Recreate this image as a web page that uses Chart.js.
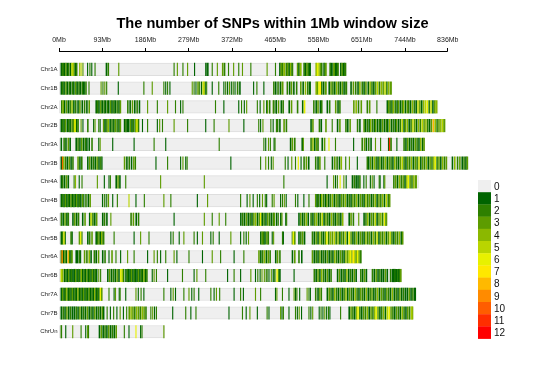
<!DOCTYPE html>
<html lang="en">
<head>
<meta charset="UTF-8">
<title>SNP density</title>
<script src="https://cdn.jsdelivr.net/npm/chart.js"></script>
<style>
  body { margin: 0; background: #fff; }
  #wrap { width: 545px; height: 365px; }
</style>
</head>
<body>
<div id="wrap"><canvas id="chart"></canvas></div>
<script>
// chromosomes, lengths in Mb
const chromosomes = ['Chr1A','Chr1B','Chr2A','Chr2B','Chr3A','Chr3B','Chr4A','Chr4B','Chr5A','Chr5B','Chr6A','Chr6B','Chr7A','Chr7B','ChrUn'];
const chromLengths = [618, 716, 815, 830, 786, 880, 773, 712, 706, 740, 650, 736, 768, 762, 227];

const tickMb = [0, 93, 186, 279, 372, 465, 558, 651, 744, 836];
const tickLabels = ['0Mb','93Mb','186Mb','279Mb','372Mb','465Mb','558Mb','651Mb','744Mb','836Mb'];

const legendLevels = ['0','1','2','3','4','5','6','7','8','9','10','11','12'];
const levelColors = ['#efefef','#006400','#2e8000','#5d9c00','#8bb800','#b9d500','#e8f100',
                     '#ffe800','#ffb900','#ff8b00','#ff5d00','#ff2e00','#ff0000'];

// SNP windows: [startMb, endMb, SNP count]
const chr1A = [[4,6,1],[7,10,2],[11,13,1],[14,16,3],[17,19,1],[20,22,2],[24,26,1],[27,30,5],[31,33,4],[34,36,1],[37,39,2],
  [44,45,4],[47,48,5],[51,52,3],[61,62,1],[66,67,2],[70,71,1],[77,78,2],[101,103,1],[105,107,2],[128,129,3],
  [247,248,2],[254,255,3],[266,267,2],[276,277,3],[291,292,1],[315,317,1],[319,321,1],[329,330,2],[340,341,3],
  [351,353,3],[355,357,2],[364,365,2],[375,376,3],[386,387,2],[394,395,3],[412,413,2],[447,448,3],[465,466,2],
  [474,476,1],[477,479,3],[480,482,2],[483,486,4],[488,490,2],[491,493,3],[494,496,1],[497,499,4],[500,503,2],
  [512,514,3],[515,517,1],[518,521,4],[526,528,2],[529,531,1],[532,534,3],[535,537,2],[538,541,1],[552,554,4],
  [555,557,6],[558,560,5],[561,563,3],[564,566,2],[569,571,1],[572,575,3],[582,584,2],[585,588,1],[590,593,3],
  [594,597,1],[598,601,2],[605,607,1],[608,610,3],[611,614,1],[614,617,2]];
const chr1B = [[4,6,1],[7,9,2],[10,12,1],[14,16,3],[17,19,1],[21,23,2],[24,26,1],[28,30,2],[31,33,1],[35,37,3],[38,40,1],
  [42,44,2],[45,47,1],[49,51,2],[52,55,1],[57,59,2],[64,65,2],[90,91,3],[94,95,2],[98,99,3],[102,103,2],[127,128,1],
  [182,183,2],[200,201,3],[225,226,2],[229,230,1],[233,234,2],[238,239,1],[286,287,3],[290,291,2],[294,295,1],
  [298,300,3],[302,303,2],[306,307,1],[309,311,5],[312,313,6],[314,315,1],[317,318,2],[329,330,1],[343,344,2],
  [354,355,1],[358,359,2],[362,363,1],[366,367,3],[370,371,1],[374,375,2],[378,379,1],[383,385,2],[388,390,1],
  [418,419,1],[425,426,2],[440,441,1],[461,463,2],[465,467,1],[470,472,2],[475,477,1],[479,482,3],[490,492,2],
  [495,497,1],[499,501,3],[504,506,1],[510,512,2],[519,521,3],[524,526,1],[529,531,4],[534,536,2],[538,541,1],
  [552,554,4],[555,557,3],[558,560,6],[561,563,7],[564,566,2],[568,570,1],[572,575,3],[580,582,1],[584,586,3],
  [588,590,2],[592,594,1],[596,598,4],[600,602,2],[604,606,1],[608,610,3],[612,614,1],[616,619,2],[627,629,1],
  [632,634,3],[637,639,2],[642,644,1],[646,648,4],[651,653,2],[655,657,1],[659,661,3],[664,666,1],[668,670,4],
  [672,674,2],[676,678,1],[680,682,3],[684,686,5],[688,690,2],[692,694,4],[696,698,3],[700,702,5],[704,706,2],
  [708,710,4],[712,715,3]];
const chr2A = [[5,7,2],[8,10,4],[11,13,1],[15,17,3],[19,21,1],[23,25,2],[27,29,4],[31,33,1],[35,37,2],[40,42,1],[44,46,3],
  [49,51,1],[54,56,2],[59,61,1],[64,66,3],[79,81,1],[82,84,2],[85,87,1],[89,91,3],[92,94,1],[96,98,2],[99,101,1],
  [103,105,2],[106,108,1],[110,112,3],[113,115,1],[117,119,2],[120,122,1],[124,126,2],[128,130,1],[131,133,3],
  [147,149,2],[152,154,1],[157,159,3],[162,164,1],[167,169,2],[172,174,1],[190,191,3],[211,212,2],[233,234,3],
  [250,251,2],[261,262,1],[266,267,2],[336,337,2],[354,355,1],[386,387,1],[392,393,2],[398,399,1],[403,404,3],
  [426,427,2],[432,433,1],[440,441,3],[446,447,1],[452,453,2],[460,461,3],[467,468,1],[448,449,3],[453,454,2],
  [461,463,2],[466,468,1],[471,473,3],[477,479,1],[481,483,2],[494,496,1],[499,501,3],[512,514,2],[523,525,1],
  [527,529,6],[547,549,2],[552,554,1],[556,558,3],[561,563,1],[564,566,2],[576,578,1],[581,583,2],[594,596,3],
  [599,601,1],[603,605,2],[633,635,3],[638,640,4],[643,645,2],[649,651,3],[662,664,2],[667,669,3],[683,684,2],
  [705,707,1],[708,710,3],[711,713,2],[715,717,1],[718,720,4],[722,724,2],[726,728,1],[729,731,3],[733,735,1],
  [737,739,2],[740,742,4],[744,746,1],[748,750,3],[751,753,2],[755,757,1],[759,761,4],[763,765,2],[767,769,1],
  [771,773,5],[775,777,3],[779,781,1],[783,785,4],[787,789,5],[791,793,6],[795,797,2],[799,801,5],[803,805,1],
  [807,809,3],[810,813,4]];
const chr2B = [[4,6,1],[7,9,2],[10,12,1],[13,15,3],[17,19,1],[20,22,2],[23,25,1],[27,29,3],[30,32,1],[32,34,5],[34,36,6],
  [37,39,1],[40,42,2],[47,48,3],[51,52,1],[61,63,2],[74,75,1],[77,78,3],[85,86,2],[88,89,1],[95,97,3],[98,100,1],
  [102,104,2],[105,107,4],[109,111,1],[113,115,2],[117,119,1],[120,122,3],[124,126,2],[128,130,1],[131,133,3],
  [140,142,1],[143,145,2],[146,148,1],[149,151,1],[153,155,3],[156,158,1],[159,161,2],[163,165,1],[165,167,5],
  [168,169,6],[170,172,2],[179,180,1],[190,191,2],[211,212,1],[216,217,3],[222,223,2],[247,248,3],[276,277,2],
  [315,316,1],[333,334,2],[365,366,3],[397,398,1],[429,430,2],[433,434,1],[438,439,3],[455,456,2],[460,461,1],
  [467,468,2],[469,471,2],[474,476,1],[483,485,3],[488,490,2],[541,543,1],[545,547,3],[559,561,2],[563,565,1],
  [573,575,3],[587,588,2],[598,600,1],[603,605,3],[616,618,2],[620,622,1],[625,627,3],[641,643,2],[646,648,1],
  [655,657,3],[658,660,1],[662,664,2],[666,668,1],[669,671,4],[673,675,2],[677,679,1],[680,682,3],[684,686,1],
  [688,690,2],[691,693,1],[695,697,3],[699,701,1],[703,705,2],[706,708,1],[710,712,4],[714,716,1],[718,720,2],
  [722,724,1],[725,727,3],[729,731,1],[733,735,2],[737,739,5],[741,743,1],[744,746,3],[748,750,4],[752,754,1],
  [756,758,2],[760,762,5],[764,766,3],[768,770,1],[772,774,4],[776,778,2],[780,782,5],[784,786,3],[788,790,4],
  [792,794,2],[796,798,1],[800,802,3],[804,806,8],[808,810,4],[812,814,2],[816,818,3],[820,822,4],[824,826,5],
  [827,830,3]];
const chr3A = [[4,6,1],[10,12,2],[14,16,1],[19,21,3],[23,25,1],[36,38,1],[40,42,2],[44,46,1],[48,50,3],[52,54,1],[56,58,2],
  [59,61,1],[64,66,1],[70,72,2],[85,86,1],[88,89,3],[115,116,1],[161,162,1],[204,205,2],[229,230,1],[344,345,2],
  [444,445,1],[450,451,3],[454,455,2],[440,441,2],[462,463,1],[464,465,2],[497,499,1],[501,503,3],[506,508,2],
  [522,524,1],[525,526,3],[541,543,2],[545,547,4],[549,551,1],[553,555,3],[556,558,2],[565,567,1],[570,572,3],
  [580,581,6],[594,595,2],[633,634,1],[651,653,2],[656,658,3],[660,662,1],[665,667,2],[670,672,1],[680,681,3],
  [691,692,2],[708,709,1],[710,712,11],[713,715,2],[726,727,1],[741,743,2],[745,747,1],[749,751,3],[753,755,1],
  [757,759,2],[761,763,1],[765,767,3],[769,771,2],[773,775,1],[777,779,4],[781,783,1],[784,786,3]];
const chr3B = [[4,6,1],[7,8,10],[9,11,4],[13,15,2],[17,19,1],[21,23,3],[25,27,1],[29,31,2],[40,42,3],[44,46,1],[48,50,2],
  [61,63,1],[65,67,3],[69,71,1],[73,75,2],[77,79,1],[81,83,3],[85,87,1],[89,91,2],[92,93,1],[140,142,3],[145,147,1],
  [150,152,2],[155,157,1],[160,162,3],[164,165,2],[208,209,1],[233,234,2],[261,262,1],[266,267,3],[272,273,1],
  [275,276,2],[369,370,1],[433,434,2],[444,445,3],[450,451,2],[456,457,1],[460,461,3],[486,487,2],[492,493,1],
  [500,501,3],[508,509,2],[514,515,6],[520,521,1],[526,528,2],[531,533,3],[536,538,1],[551,553,2],[556,558,1],
  [560,562,3],[571,572,2],[587,589,1],[592,594,3],[597,599,2],[602,604,1],[606,608,4],[616,617,2],[624,625,3],
  [641,642,1],[662,664,2],[665,667,1],[669,671,3],[673,675,1],[677,679,4],[681,683,2],[685,687,1],[689,691,3],
  [693,695,1],[697,699,2],[701,703,4],[705,707,1],[709,711,3],[713,715,2],[717,719,1],[721,723,4],[725,727,2],
  [729,731,1],[733,735,3],[737,739,5],[741,743,2],[745,747,1],[749,751,3],[753,755,2],[757,759,4],[761,763,1],
  [765,767,3],[769,771,2],[773,775,5],[777,779,1],[781,783,3],[785,787,2],[789,791,4],[793,795,1],[797,799,3],
  [801,803,2],[805,807,4],[808,810,6],[812,814,2],[816,818,3],[820,822,1],[824,826,4],[828,830,2],[832,834,3],
  [845,847,1],[850,852,4],[856,858,2],[861,863,3],[866,868,1],[870,872,2],[874,876,1],[877,879,3]];
const chr4A = [[4,6,1],[7,9,2],[11,13,1],[15,17,3],[19,21,1],[32,33,2],[35,36,4],[43,44,1],[49,50,2],[82,83,3],[97,98,1],
  [107,108,1],[110,111,2],[122,124,1],[126,128,3],[130,132,1],[143,144,2],[218,219,3],[312,313,3],[483,484,2],
  [576,577,1],[590,591,3],[594,595,1],[598,599,2],[604,605,6],[612,613,3],[617,618,1],[630,632,1],[634,636,2],
  [638,640,1],[642,644,1],[646,648,2],[655,656,1],[660,661,2],[669,670,1],[673,674,3],[677,678,1],[688,689,2],
  [690,691,1],[698,699,1],[700,701,3],[719,721,2],[723,725,3],[727,729,1],[731,733,4],[735,737,2],[739,741,3],
  [743,745,1],[747,749,4],[750,752,6],[754,756,3],[758,760,2],[762,764,4],[766,769,3]];
const chr4B = [[4,6,1],[7,9,2],[10,12,1],[13,15,3],[16,18,1],[19,21,2],[22,24,1],[25,27,3],[28,30,1],[31,33,2],[34,36,1],
  [37,39,3],[40,42,1],[43,45,2],[46,48,1],[50,52,3],[53,54,1],[57,59,2],[62,64,1],[66,68,3],[93,94,1],[97,98,2],
  [101,102,1],[105,107,3],[115,116,1],[125,126,2],[150,151,5],[165,166,1],[183,184,2],[225,226,3],[240,241,2],
  [297,298,1],[319,320,3],[390,391,2],[404,405,1],[410,411,3],[417,418,1],[426,427,2],[431,432,1],[437,438,3],
  [443,444,2],[446,447,1],[458,459,2],[462,463,3],[476,477,1],[480,481,2],[484,485,3],[488,489,1],[508,509,2],
  [513,514,1],[526,527,1],[537,538,2],[551,553,3],[554,556,1],[557,559,2],[561,563,1],[564,566,4],[568,570,2],
  [572,574,1],[575,577,3],[579,581,1],[583,585,2],[587,589,4],[591,593,1],[595,597,3],[599,601,2],[603,605,1],
  [607,609,3],[611,613,2],[615,617,4],[619,621,1],[623,625,2],[627,629,1],[631,633,3],[635,637,2],[639,641,4],
  [643,645,1],[647,649,3],[651,653,2],[655,657,1],[659,661,4],[663,665,2],[667,669,3],[671,673,1],[675,677,2],
  [679,681,4],[683,685,1],[687,689,3],[691,693,2],[695,697,4],[699,701,1],[703,705,5],[707,709,2],[710,712,3]];
const chr5A = [[4,6,2],[8,10,1],[12,14,3],[16,18,1],[19,21,2],[29,31,1],[33,35,3],[37,39,1],[41,43,2],[50,52,1],[55,57,3],
  [65,67,1],[68,70,5],[72,74,2],[76,78,1],[80,82,3],[93,95,1],[97,99,2],[102,104,1],[111,112,3],[154,156,2],
  [159,161,3],[165,167,1],[170,172,2],[247,248,1],[312,313,3],[329,330,2],[344,345,3],[358,359,2],[390,392,1],
  [394,396,2],[398,400,1],[402,404,3],[406,408,1],[410,412,2],[414,416,1],[418,420,3],[422,424,4],[426,428,1],
  [430,432,3],[433,435,6],[436,438,1],[440,442,2],[444,446,1],[448,450,3],[452,454,2],[456,458,1],[460,462,2],
  [462,464,3],[467,469,1],[471,472,2],[476,478,1],[479,480,3],[487,488,1],[489,490,2],[515,517,1],[519,521,3],
  [523,525,1],[527,529,2],[531,533,4],[535,537,1],[541,543,2],[545,547,1],[549,551,3],[553,555,4],[557,559,1],
  [561,563,2],[565,567,5],[569,571,1],[573,575,3],[577,579,2],[581,583,1],[585,587,4],[589,591,2],[593,595,1],
  [597,599,3],[601,603,2],[605,607,1],[609,611,4],[623,625,1],[627,629,3],[632,634,2],[644,645,3],[655,657,1],
  [659,661,2],[663,665,4],[667,669,1],[671,673,3],[675,677,2],[679,681,5],[683,685,1],[687,689,3],[691,693,4],
  [695,697,2],[699,701,6],[702,705,3]];
const chr5B = [[4,6,1],[7,9,2],[10,12,6],[13,14,1],[25,27,2],[28,29,1],[43,45,3],[46,48,6],[49,50,2],[61,63,1],[65,67,2],
  [70,72,3],[79,81,1],[82,84,2],[85,87,3],[88,90,1],[91,93,4],[94,97,2],[118,119,2],[161,162,1],[175,176,3],
  [193,194,2],[240,241,1],[245,246,2],[258,259,1],[268,269,3],[290,291,2],[297,298,1],[308,309,3],[326,327,1],
  [331,332,2],[344,345,1],[369,370,3],[390,391,1],[397,398,2],[402,403,1],[407,408,3],[433,435,1],[436,438,3],
  [439,441,2],[442,444,1],[446,448,3],[449,451,2],[458,459,1],[461,462,3],[480,481,2],[482,483,1],[501,502,2],
  [503,505,6],[506,508,3],[515,517,1],[519,521,2],[523,525,3],[527,529,1],[544,546,2],[548,550,1],[552,554,3],
  [556,558,1],[560,562,4],[564,566,2],[568,570,1],[572,574,3],[575,577,6],[579,581,2],[583,585,4],[587,589,3],
  [591,593,5],[595,597,2],[599,601,4],[603,605,1],[607,609,3],[611,613,2],[615,617,5],[619,621,1],[623,625,6],
  [627,629,3],[631,633,1],[635,637,2],[639,641,4],[643,645,1],[647,649,3],[651,653,2],[655,657,1],[659,661,4],
  [663,665,2],[667,669,3],[671,673,1],[675,677,4],[679,681,2],[683,685,5],[687,689,1],[691,693,3],[695,697,2],
  [699,701,4],[703,705,1],[707,709,3],[711,713,5],[715,717,2],[719,721,1],[723,725,3],[727,729,2],[731,733,4],
  [735,737,1],[738,740,3]];
const chr6A = [[4,6,2],[6,8,9],[9,11,1],[12,14,3],[15,17,1],[19,21,8],[22,24,2],[25,27,1],[27,29,3],[36,38,1],[39,41,1],
  [43,45,2],[46,47,1],[54,56,3],[59,61,2],[64,66,4],[68,70,1],[75,77,2],[79,81,1],[84,86,3],[93,95,1],[98,100,2],
  [107,108,1],[113,115,3],[122,123,2],[132,133,1],[147,148,3],[161,162,2],[190,191,1],[204,205,3],[211,212,2],
  [218,219,1],[229,230,2],[247,248,3],[253,254,1],[279,280,2],[308,309,1],[329,330,3],[347,348,2],[376,377,1],
  [397,398,2],[429,431,3],[433,435,1],[437,439,2],[441,443,4],[445,447,1],[449,451,3],[453,455,2],[465,467,1],
  [469,471,3],[474,476,2],[501,503,1],[506,508,3],[515,517,2],[521,523,1],[544,546,3],[548,550,1],[552,554,2],
  [556,558,1],[560,562,3],[564,566,1],[568,570,2],[572,574,1],[576,578,3],[580,582,1],[584,586,2],[588,590,1],
  [592,594,4],[596,598,2],[600,602,1],[604,606,3],[608,610,2],[612,614,1],[616,618,4],[620,622,3],[623,625,5],
  [626,628,6],[629,631,4],[632,634,7],[635,637,5],[638,640,3],[641,643,6],[644,646,4],[647,650,2]];
const chr6B = [[4,6,5],[7,9,4],[11,13,1],[14,16,2],[17,19,1],[20,22,3],[23,25,1],[26,28,2],[29,31,1],[32,34,1],[35,37,3],
  [38,40,1],[41,43,2],[44,46,1],[47,49,4],[50,52,1],[53,55,2],[56,58,1],[59,61,3],[62,64,1],[65,67,2],[68,70,1],
  [71,73,3],[74,76,1],[77,79,2],[80,82,1],[85,86,3],[89,90,2],[104,106,1],[108,110,3],[112,114,1],[116,118,2],
  [120,122,1],[124,126,3],[128,130,1],[132,134,6],[135,137,5],[138,140,2],[143,145,1],[146,148,2],[149,151,1],
  [152,154,1],[155,157,3],[158,160,1],[161,163,2],[164,166,1],[167,169,1],[170,172,3],[173,175,1],[176,178,2],
  [179,181,1],[182,184,4],[185,187,1],[188,190,2],[200,201,1],[204,205,3],[209,210,2],[233,234,1],[265,266,2],
  [290,291,1],[296,297,3],[315,316,2],[362,363,1],[376,377,2],[390,391,1],[412,413,3],[422,423,1],[427,428,2],
  [432,433,1],[436,437,3],[441,442,3],[445,446,2],[447,448,2],[451,452,1],[456,457,3],[460,461,1],[462,463,1],
  [464,465,2],[468,469,6],[470,471,6],[472,473,2],[474,476,1],[505,506,1],[548,550,2],[552,554,1],[556,558,3],
  [560,562,1],[564,566,4],[568,570,2],[572,574,1],[576,578,3],[580,582,1],[584,586,2],[598,600,1],[602,604,3],
  [606,608,1],[610,612,2],[614,616,1],[618,620,4],[622,624,1],[626,628,2],[630,632,1],[634,636,3],[638,640,1],
  [648,650,2],[652,654,1],[656,658,3],[660,662,1],[673,675,2],[677,679,1],[681,683,3],[685,687,1],[689,691,2],
  [693,695,1],[697,699,1],[701,703,3],[705,707,1],[712,714,2],[716,718,1],[718,720,1],[720,722,1],[722,724,2],
  [724,726,1],[726,728,1],[728,730,2],[730,733,1],[733,736,3]];
const chr7A = [[4,6,1],[7,9,3],[10,12,1],[13,15,2],[16,18,4],[19,21,1],[22,24,2],[25,27,1],[28,30,3],[31,33,1],[34,36,2],
  [37,39,1],[40,42,4],[43,45,1],[46,48,2],[49,51,1],[52,54,3],[55,57,1],[58,60,2],[61,63,1],[64,66,3],[67,69,1],
  [70,72,2],[73,75,1],[76,78,4],[79,81,1],[82,84,2],[85,87,1],[88,90,6],[91,93,3],[107,108,2],[118,119,1],
  [121,122,3],[129,130,1],[131,132,2],[143,144,1],[165,166,3],[170,171,1],[176,177,2],[182,183,1],[225,226,2],
  [240,241,1],[245,246,3],[250,251,1],[268,269,2],[279,280,3],[285,286,1],[290,291,2],[300,301,1],[326,327,2],
  [333,334,1],[338,339,3],[345,346,2],[376,377,1],[390,391,2],[396,397,1],[422,423,3],[433,434,2],[465,466,1],
  [468,469,3],[480,481,2],[494,495,1],[505,506,3],[508,509,1],[511,512,2],[517,518,1],[533,534,3],[537,538,2],
  [540,541,1],[551,553,2],[556,558,1],[560,562,3],[564,565,2],[576,578,1],[580,582,3],[584,586,2],[588,590,1],
  [592,594,4],[596,598,2],[600,602,1],[604,606,3],[608,610,1],[612,614,2],[616,618,4],[620,622,1],[624,626,3],
  [628,630,2],[632,634,1],[636,638,4],[640,642,2],[644,646,1],[648,650,3],[652,654,2],[656,658,1],[660,662,4],
  [664,666,1],[668,670,2],[672,674,3],[676,678,1],[680,682,2],[684,686,4],[688,690,1],[692,694,3],[696,698,2],
  [700,702,1],[704,706,3],[708,710,2],[712,714,1],[716,718,4],[720,722,1],[724,726,2],[728,730,1],[732,734,3],
  [736,738,1],[740,742,2],[744,746,1],[748,750,1],[752,754,3],[756,758,1],[760,762,2],[764,767,1]];
const chr7B = [[4,6,1],[8,10,2],[12,14,1],[16,18,3],[20,22,1],[24,26,2],[28,30,1],[32,34,1],[36,38,2],[40,42,1],[44,46,3],
  [48,50,1],[52,54,2],[56,58,1],[60,62,3],[64,66,1],[68,70,2],[72,74,1],[76,78,3],[80,82,1],[84,86,2],[88,90,1],
  [92,94,3],[95,97,1],[103,104,2],[110,111,1],[117,118,2],[124,125,1],[131,132,3],[138,139,1],[145,146,2],
  [150,152,3],[154,156,4],[158,160,3],[162,164,2],[166,168,4],[170,172,3],[174,176,2],[178,180,4],[182,184,3],
  [186,188,2],[197,198,2],[201,202,3],[205,206,1],[209,210,2],[244,245,1],[272,273,2],[283,284,1],[294,295,2],
  [365,366,1],[394,395,2],[402,403,1],[410,411,3],[426,427,1],[447,448,2],[451,452,1],[476,477,3],[479,480,1],
  [482,483,2],[494,495,1],[508,509,2],[512,513,1],[516,517,3],[521,522,1],[537,538,2],[541,542,1],[545,546,3],
  [559,560,1],[563,564,2],[567,568,1],[571,572,3],[575,576,1],[579,580,2],[582,583,1],[605,606,2],[623,625,1],
  [627,629,3],[631,633,2],[635,637,1],[639,641,4],[642,644,6],[646,648,2],[650,652,1],[654,656,3],[658,660,2],
  [662,664,4],[666,668,1],[670,672,3],[674,676,2],[678,680,4],[681,683,6],[685,687,3],[689,691,1],[693,695,2],
  [697,699,4],[701,703,1],[705,707,5],[709,711,6],[713,715,3],[717,719,2],[721,723,1],[725,727,3],[729,731,2],
  [733,735,1],[737,739,4],[741,743,2],[745,747,1],[749,751,3],[753,755,2],[757,759,5],[759,761,4]];
const chrUn = [[4,6,2],[14,15,1],[29,30,3],[47,48,2],[57,58,1],[61,62,3],[63,64,2],[86,88,1],[90,92,3],[94,96,1],[98,100,2],
  [102,104,1],[106,108,3],[110,112,1],[114,116,2],[118,120,1],[122,124,3],[140,141,2],[150,151,1],[165,166,6],
  [175,176,1],[178,179,2],[225,226,3]];

const windowSets = [chr1A, chr1B, chr2A, chr2B, chr3A, chr3B, chr4A, chr4B, chr5A, chr5B, chr6A, chr6B, chr7A, chr7B, chrUn];

// build floating bar data
const bodyData = chromLengths.map((len, i) => ({ x: [0, len], y: i }));
const stripeData = [];
windowSets.forEach((set, i) => {
  set.forEach(w => stripeData.push({ x: [w[0], w[1]], y: i, n: w[2] }));
});

const font = "'Liberation Sans', Arial, sans-serif";

// top axis line only over the labelled range, plus the colour key
const extras = {
  id: 'extras',
  afterDraw(chart) {
    const ctx = chart.ctx;
    const xs = chart.scales.x;
    const top = chart.chartArea.top;
    ctx.save();
    ctx.strokeStyle = '#000';
    ctx.lineWidth = 1;
    ctx.beginPath();
    ctx.moveTo(xs.getPixelForValue(tickMb[0]), top + 0.5);
    ctx.lineTo(xs.getPixelForValue(tickMb[tickMb.length - 1]), top + 0.5);
    ctx.stroke();

    // colour key
    const kx = 478, ky = 180, kw = 13, kh = 12.2;
    ctx.font = '10px ' + font;
    ctx.textBaseline = 'middle';
    legendLevels.forEach((lab, i) => {
      ctx.fillStyle = levelColors[i];
      ctx.fillRect(kx, ky + i * kh, kw, kh + 0.3);
      ctx.fillStyle = '#111';
      ctx.fillText(lab, kx + kw + 3, ky + i * kh + kh / 2 + 1);
    });
    ctx.restore();
  }
};

new Chart(document.getElementById('chart'), {
  type: 'bar',
  data: {
    datasets: [
      {
        data: stripeData,
        backgroundColor: c => levelColors[c.raw ? c.raw.n : 1],
        borderWidth: 0,
        grouped: false,
        barThickness: 12.5,
        order: 1
      },
      {
        data: bodyData,
        backgroundColor: '#efefef',
        borderColor: '#dedede',
        borderWidth: 1,
        borderSkipped: false,
        grouped: false,
        barThickness: 12.5,
        order: 2
      }
    ]
  },
  plugins: [extras],
  options: {
    indexAxis: 'y',
    responsive: true,
    maintainAspectRatio: false,
    animation: false,
    layout: { padding: { left: 0, right: 0, top: 0, bottom: 23.9 } },
    plugins: {
      legend: { display: false },
      tooltip: { enabled: false },
      title: {
        display: true,
        text: 'The number of SNPs within 1Mb window size',
        color: '#000',
        font: { family: font, size: 14.6, weight: 'bold', lineHeight: 1 },
        padding: { top: 17, bottom: 0 }
      }
    },
    scales: {
      x: {
        type: 'linear',
        position: 'top',
        min: 0,
        max: 1045,
        afterBuildTicks: s => { s.ticks = tickMb.map(v => ({ value: v })); },
        border: { display: false },
        grid: { drawOnChartArea: false, drawTicks: true, tickLength: 3, color: '#000', lineWidth: 1 },
        ticks: {
          autoSkip: false,
          maxRotation: 0,
          padding: 4,
          color: '#222',
          font: { family: font, size: 7 },
          callback: v => tickLabels[tickMb.indexOf(v)]
        }
      },
      y: {
        type: 'linear',
        reverse: true,
        offset: false,
        min: -0.98,
        max: 14.5,
        afterFit: s => { s.width = 59; },
        afterBuildTicks: s => { s.ticks = chromosomes.map((c, i) => ({ value: i })); },
        border: { display: false },
        grid: { display: false, drawTicks: false },
        ticks: {
          autoSkip: false,
          padding: 1.5,
          color: '#222',
          font: { family: font, size: 6 },
          callback: v => chromosomes[v]
        }
      }
    }
  }
});
</script>
</body>
</html>
